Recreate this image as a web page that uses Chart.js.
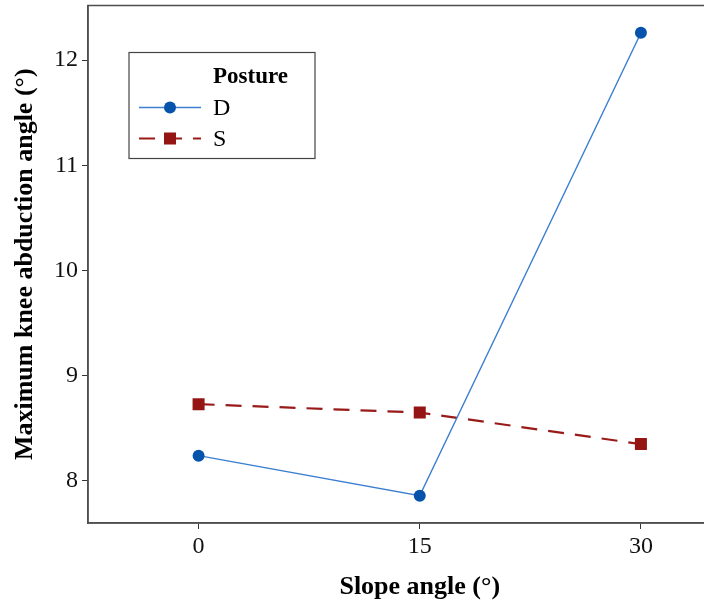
<!DOCTYPE html>
<html lang="en">
<head>
  <meta charset="UTF-8">
  <title>Maximum knee abduction angle</title>
  <script src="https://cdn.jsdelivr.net/npm/chart.js"></script>
  <style>
    html, body { margin: 0; padding: 0; background: #fff; overflow: hidden; }
    /* the plot is a little wider than the window, its right side is cut off like the reference */
    #wrap { width: 760px; height: 611px; margin-top: -3px; }
  </style>
</head>
<body>
  <div id="wrap"><canvas id="chart"></canvas></div>

  <script>
    // data
    const slopes = [0, 15, 30];
    const postureD = [8.24, 7.86, 12.26];
    const postureS = [8.73, 8.65, 8.35];
    const xTicks = [0, 15, 30];
    const yTicks = [8, 9, 10, 11, 12];

    const serif = '"Liberation Serif", "DejaVu Serif", serif';

    // box around the panel
    const frame = {
      id: 'frame',
      afterDatasetsDraw(chart) {
        const { ctx, chartArea: a } = chart;
        ctx.save();
        ctx.strokeStyle = '#4d4d4d';
        ctx.lineWidth = 1.5;
        ctx.strokeRect(a.left, a.top, a.right - a.left, a.bottom - a.top);
        ctx.restore();
      }
    };

    // legend box inside the panel, with title "Posture"
    const boxLegend = {
      id: 'boxLegend',
      afterDraw(chart) {
        const { ctx, chartArea: a } = chart;
        const x0 = a.left + 41, y0 = a.top + 47;
        ctx.save();
        ctx.fillStyle = '#fff';
        ctx.fillRect(x0, y0, 186, 106);
        ctx.strokeStyle = '#444';
        ctx.lineWidth = 1.2;
        ctx.strokeRect(x0, y0, 186, 106);

        ctx.fillStyle = '#000';
        ctx.textBaseline = 'middle';
        ctx.textAlign = 'left';
        ctx.font = 'bold 23px ' + serif;
        ctx.fillText('Posture', x0 + 84, y0 + 25);

        chart.data.datasets.forEach((ds, i) => {
          const y = y0 + 55 + i * 31;
          ctx.strokeStyle = ds.borderColor;
          ctx.lineWidth = ds.borderWidth;
          ctx.setLineDash(ds.borderDash || []);
          ctx.beginPath();
          ctx.moveTo(x0 + 10, y);
          ctx.lineTo(x0 + 72, y);
          ctx.stroke();
          ctx.setLineDash([]);

          ctx.fillStyle = ds.pointBackgroundColor;
          const cx = x0 + 41;
          if (ds.pointStyle === 'rect') {
            ctx.fillRect(cx - 6, y - 6, 12, 12);
          } else {
            ctx.beginPath();
            ctx.arc(cx, y, 6, 0, Math.PI * 2);
            ctx.fill();
          }

          ctx.fillStyle = '#000';
          ctx.font = '24px ' + serif;
          ctx.fillText(ds.label, x0 + 84, y + 1);
        });
        ctx.restore();
      }
    };

    new Chart(document.getElementById('chart'), {
      type: 'line',
      data: {
        datasets: [
          {
            label: 'D',
            data: slopes.map((s, i) => ({ x: s, y: postureD[i] })),
            borderColor: '#3d7fd1',
            borderWidth: 1.3,
            pointStyle: 'circle',
            pointRadius: 6,
            pointBackgroundColor: '#0553ab',
            pointBorderColor: '#0553ab',
            pointBorderWidth: 0,
            tension: 0
          },
          {
            label: 'S',
            data: slopes.map((s, i) => ({ x: s, y: postureS[i] })),
            borderColor: '#9a1a1a',
            borderWidth: 2.2,
            borderDash: [16, 11],
            pointStyle: 'rect',
            pointRadius: 8.5,
            pointBackgroundColor: '#951515',
            pointBorderColor: '#951515',
            pointBorderWidth: 0,
            tension: 0
          }
        ]
      },
      options: {
        responsive: true,
        maintainAspectRatio: false,
        animation: false,
        layout: { padding: { top: 2, right: 6, left: 0, bottom: 0 } },
        plugins: {
          legend: { display: false },
          tooltip: { enabled: false }
        },
        scales: {
          x: {
            type: 'linear',
            min: -7.5,
            max: 37.5,
            afterBuildTicks: axis => { axis.ticks = xTicks.map(v => ({ value: v })); },
            afterFit: axis => {
              axis.height = 85;
              axis.paddingLeft = 0;
              axis.paddingRight = 0;
            },
            grid: { drawOnChartArea: false, tickLength: 6, tickColor: '#333' },
            border: { color: '#555', width: 1.5 },
            ticks: { color: '#111', padding: 3, font: { family: serif, size: 24 } },
            title: {
              display: true,
              text: 'Slope angle (°)',
              color: '#000',
              padding: { top: 0, bottom: 5 },
              font: { family: serif, size: 26, weight: 'bold' }
            }
          },
          y: {
            min: 7.6,
            max: 12.52,
            afterBuildTicks: axis => { axis.ticks = yTicks.map(v => ({ value: v })); },
            afterFit: axis => {
              axis.width = 88;
              axis.paddingTop = 0;
              axis.paddingBottom = 0;
            },
            grid: { drawOnChartArea: false, tickLength: 6, tickColor: '#333' },
            border: { color: '#555', width: 1.5 },
            ticks: { color: '#111', padding: 4, font: { family: serif, size: 24 } },
            title: {
              display: true,
              text: 'Maximum knee abduction angle (°)',
              color: '#000',
              padding: { top: 10, bottom: 0 },
              font: { family: serif, size: 26, weight: 'bold' }
            }
          }
        }
      },
      plugins: [frame, boxLegend]
    });
  </script>
</body>
</html>
